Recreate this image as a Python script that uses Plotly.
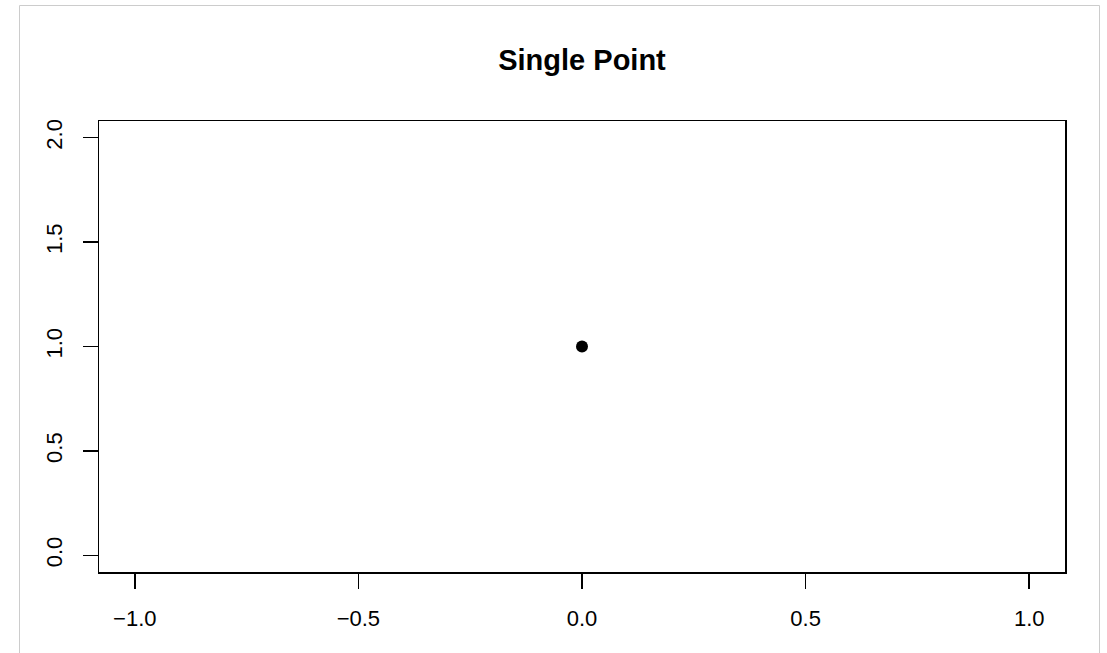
import plotly.graph_objects as go

x_vals = [0.0]
y_vals = [1.0]
x_ticks = [-1.0, -0.5, 0.0, 0.5, 1.0]
x_tick_labels = ["\u22121.0", "\u22120.5", "0.0", "0.5", "1.0"]
y_ticks = [0.0, 0.5, 1.0, 1.5, 2.0]
y_tick_labels = ["0.0", "0.5", "1.0", "1.5", "2.0"]
title_text = "Single Point"

W, H = 1107, 653
L, T = 99, 121
pw, ph = 966, 451
R, B = W - L - pw, H - T - ph

def px_x(p):
    return (p - L) / pw

def px_y(p):
    return (T + ph - p) / ph

fig = go.Figure()
fig.add_trace(go.Scatter(
    x=x_vals, y=y_vals, mode="markers",
    marker=dict(size=12, color="black", line=dict(width=0)),
    showlegend=False, hoverinfo="skip"))

font = "Liberation Sans, Arial, Helvetica, sans-serif"
fig.update_layout(
    width=W, height=H,
    margin=dict(l=L, r=R, t=T, b=B, pad=0),
    paper_bgcolor="white", plot_bgcolor="white",
    font=dict(family=font, color="black", size=22),
    title=dict(text="<b>" + title_text + "</b>", x=px_x(582), xref="paper", xanchor="center",
               y=1 - 60 / H, yref="container", yanchor="middle",
               font=dict(family=font, size=29, color="black")),
    xaxis=dict(range=[-1.08, 1.08], tickvals=x_ticks, ticktext=x_tick_labels,
               showgrid=False, zeroline=False, showline=True, mirror=True,
               linecolor="black", linewidth=1.5, ticks="outside", ticklen=15,
               tickwidth=1.5, tickcolor="black", ticklabelstandoff=11,
               tickfont=dict(family=font, size=22, color="black")),
    yaxis=dict(range=[-0.08, 2.08], tickvals=y_ticks, ticktext=y_tick_labels,
               showgrid=False, zeroline=False, showline=True, mirror=True,
               linecolor="black", linewidth=1.5, ticks="outside", ticklen=15,
               tickwidth=1.5, tickcolor="black", tickangle=-90, ticklabelstandoff=12,
               tickfont=dict(family=font, size=22, color="black")),
    shapes=[dict(type="rect", xref="paper", yref="paper",
                 x0=px_x(19.5), x1=px_x(1099.5), y0=px_y(670), y1=px_y(5.5),
                 line=dict(color="#cccccc", width=1), fillcolor="rgba(0,0,0,0)",
                 layer="below")],
)

fig.write_html("out.html",
               config={"displayModeBar": False, "staticPlot": True},
               post_script="document.body.style.margin='0px';document.body.style.overflow='hidden';")
